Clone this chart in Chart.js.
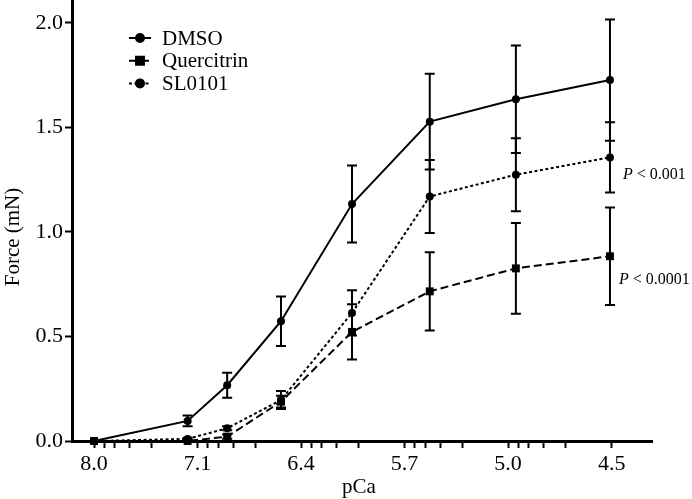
<!DOCTYPE html>
<html>
<head>
<meta charset="utf-8">
<title>Force vs pCa</title>
<script src="https://cdn.jsdelivr.net/npm/chart.js@4.4.1/dist/chart.umd.min.js"></script>
<style>
  html, body { margin: 0; padding: 0; background: #fff; }
  #wrap { width: 692px; height: 499px; }
</style>
</head>
<body>
<div id="wrap"><canvas id="myChart" width="692" height="499"></canvas></div>
<script>
'use strict';

//Global Variables
//x axis: major ticks are equally spaced, one unit apart
var tickLabels = ['8.0', '7.1', '6.4', '5.7', '5.0', '4.5'];
//minor tick offsets after each major tick (fraction of one unit)
var minorSteps = [0.097, 0.2, 0.345, 0.555];
//where the measured points sit on that axis
var xPos = [0, 0.904, 1.286, 1.806, 2.492, 3.243, 4.075, 4.984];

var seriesNames = ['DMSO', 'Quercitrin', 'SL0101'];
var dmso = [0, 0.096, 0.267, 0.573, 1.134, 1.528, 1.635, 1.727];
var dmsoErr = [0, 0.026, 0.06, 0.118, 0.184, 0.229, 0.257, 0.29];
var querc = [0, 0, 0.021, 0.188, 0.522, 0.716, 0.826, 0.884];
var quercErr = [0, 0, 0.01, 0.028, 0.132, 0.187, 0.217, 0.233];
var sl = [0, 0.01, 0.061, 0.196, 0.613, 1.17, 1.274, 1.357];
var slErr = [0, 0.005, 0.01, 0.043, 0.108, 0.175, 0.175, 0.168];

var yTicks = [0, 0.5, 1.0, 1.5, 2.0];
var pLabels = ['P < 0.001', 'P < 0.0001'];

var serif = 'Liberation Serif';

function toPoints(vals) {
  let pts = [];
  for (let i = 0; i < vals.length; i++) {
    pts.push({ x: xPos[i], y: vals[i] });
  }
  return pts;
}

//no extra room round the scales, the chart area is set by afterFit
function noPad(s) {
  s.paddingTop = 0;
  s.paddingBottom = 0;
  s.paddingLeft = 0;
  s.paddingRight = 0;
}

//error bars + legend + titles drawn by hand
var extras = {
  id: 'extras',
  beforeDatasetsDraw(chart) {
    let ctx = chart.ctx;
    let xs = chart.scales.x;
    let ys = chart.scales.y;
    let errs = [dmsoErr, quercErr, slErr];
    ctx.save();
    ctx.strokeStyle = '#000';
    ctx.lineWidth = 2;
    chart.data.datasets.forEach(function (ds, d) {
      ds.data.forEach(function (p, i) {
        let e = errs[d][i];
        if (!e) return;
        let px = xs.getPixelForValue(p.x);
        let top = ys.getPixelForValue(p.y + e);
        let bot = ys.getPixelForValue(p.y - e);
        ctx.beginPath();
        ctx.moveTo(px, top); ctx.lineTo(px, bot);
        ctx.moveTo(px - 5, top); ctx.lineTo(px + 5, top);
        ctx.moveTo(px - 5, bot); ctx.lineTo(px + 5, bot);
        ctx.stroke();
      });
    });
    ctx.restore();
  },
  afterDraw(chart) {
    let ctx = chart.ctx;
    let ys = chart.scales.y;
    ctx.save();
    ctx.fillStyle = '#000';
    ctx.strokeStyle = '#000';

    //legend
    chart.data.datasets.forEach(function (ds, d) {
      let y = 38 + d * 22.7;
      ctx.lineWidth = 2;
      ctx.setLineDash(ds.borderDash || []);
      ctx.beginPath();
      ctx.moveTo(129, y); ctx.lineTo(151, y);
      ctx.stroke();
      ctx.setLineDash([]);
      Chart.helpers.drawPoint(ctx, { pointStyle: ds.pointStyle, radius: ds.pointRadius, borderWidth: 1 }, 140, y);
      ctx.fill();
      ctx.font = '21px "' + serif + '"';
      ctx.textAlign = 'left';
      ctx.textBaseline = 'middle';
      ctx.fillText(ds.label, 162, y + 1);
    });

    //P values next to the last points
    let pY = [ys.getPixelForValue(sl[sl.length - 1]) + 17, ys.getPixelForValue(querc[querc.length - 1]) + 24];
    let pX = [623, 619];
    pLabels.forEach(function (t, i) {
      let parts = t.split(' ');
      ctx.textBaseline = 'middle';
      ctx.textAlign = 'left';
      ctx.font = 'italic 16px "' + serif + '"';
      ctx.fillText(parts[0], pX[i], pY[i]);
      let w = ctx.measureText(parts[0] + ' ').width;
      ctx.font = '16px "' + serif + '"';
      ctx.fillText(parts.slice(1).join(' '), pX[i] + w, pY[i]);
    });

    //axis titles
    ctx.font = '21px "' + serif + '"';
    ctx.textAlign = 'center';
    ctx.textBaseline = 'middle';
    ctx.fillText('pCa', 359, 487);
    ctx.translate(13, 237);
    ctx.rotate(-Math.PI / 2);
    ctx.fillText('Force (mN)', 0, 0);
    ctx.restore();
  }
};

var lineStyles = [[], [8, 4], [3, 2.5]];
var markers = ['circle', 'rect', 'circle'];
var markerSize = [4, 5.6, 4];
var allVals = [dmso, querc, sl];

var datasets = [];
for (let d = 0; d < seriesNames.length; d++) {
  datasets.push({
    label: seriesNames[d],
    data: toPoints(allVals[d]),
    borderColor: '#000',
    backgroundColor: '#000',
    borderWidth: 2,
    borderDash: lineStyles[d],
    pointStyle: markers[d],
    pointRadius: markerSize[d],
    pointBorderWidth: 0,
    pointBackgroundColor: '#000',
    tension: 0,
    clip: false
  });
}

var ctx = document.getElementById('myChart').getContext('2d');
//eslint-disable-next-line no-undef, no-unused-vars
var chart = new Chart(ctx, {
  type: 'line',
  data: { datasets: datasets },
  plugins: [extras],
  options: {
    responsive: false,
    animation: false,
    devicePixelRatio: 1,
    layout: { autoPadding: false, padding: { left: 0, right: 40, top: 0, bottom: 0 } },
    plugins: { legend: { display: false }, tooltip: { enabled: false } },
    scales: {
      x: {
        type: 'linear',
        min: -0.213,
        max: 5.39,
        afterFit: function (s) { s.height = 58; noPad(s); },
        afterBuildTicks: function (s) {
          let t = [];
          for (let i = 0; i < tickLabels.length; i++) {
            t.push({ value: i, major: true });
            if (i < tickLabels.length - 1) {
              minorSteps.forEach(function (m) { t.push({ value: i + m }); });
            }
          }
          s.ticks = t;
        },
        ticks: {
          autoSkip: false,
          maxRotation: 0,
          padding: 3,
          color: '#000',
          font: { family: serif, size: 22 },
          callback: function (v) {
            let i = Math.round(v);
            return Math.abs(v - i) < 1e-6 ? tickLabels[i] : '';
          }
        },
        grid: { drawOnChartArea: false, drawTicks: true, tickLength: 7, tickWidth: 2, tickColor: '#000' },
        border: { display: true, color: '#000', width: 3 }
      },
      y: {
        min: 0,
        max: 2.11,
        afterFit: function (s) { s.width = 72; noPad(s); },
        afterBuildTicks: function (s) {
          s.ticks = yTicks.map(function (v) { return { value: v }; });
        },
        ticks: {
          padding: 2,
          color: '#000',
          font: { family: serif, size: 22 },
          callback: function (v) { return v.toFixed(1); }
        },
        grid: { drawOnChartArea: false, drawTicks: true, tickLength: 7, tickWidth: 2, tickColor: '#000' },
        border: { display: true, color: '#000', width: 3 }
      }
    }
  }
});
</script>
</body>
</html>
